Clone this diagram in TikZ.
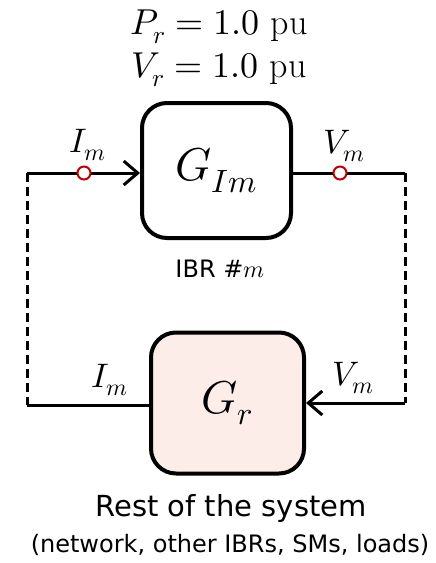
\documentclass[tikz,border=0pt]{standalone}
\usepackage{fontspec}
\usepackage{unicode-math}
\setmathfont{Latin Modern Math}
\setsansfont{DejaVu Sans}
\definecolor{probered}{RGB}{192,0,0}
\definecolor{softpink}{RGB}{252,237,232}
\usetikzlibrary{arrows.meta,positioning}

\begin{document}
\begin{tikzpicture}[x=1pt,y=-1pt,
  block/.style={draw,line width=4pt,rounded corners=25pt,minimum width=149pt,minimum height=135pt,inner sep=0pt},
  wire/.style={line width=3pt},
  dashwire/.style={line width=3pt,dash pattern=on 9pt off 5pt},
  probe/.style={circle,draw=probered,fill=white,line width=2pt,minimum size=13pt,inner sep=0pt},
  tip/.style={-{Straight Barb[length=14pt,width=24pt,line width=3pt]}},
  siglabel/.style={font=\fontsize{34}{40}\selectfont}]
\useasboundingbox (0,0) rectangle (436,563);
% blocks
\node[block] (gim) at (216.5,170.5) {\fontsize{46}{54}\selectfont$G_{Im}$};
\node[block,fill=softpink,minimum width=153pt,minimum height=141pt] (gr) at (227.5,403) {\fontsize{46}{54}\selectfont$G_r$};
% operating point and captions
\node[font=\fontsize{36}{40}\selectfont] (pr) at (219,27) {$P_r = 1.0\ \mathrm{pu}$};
\node[font=\fontsize{36}{40}\selectfont] (vr) at (219,70) {$V_r = 1.0\ \mathrm{pu}$};
\node[font=\sffamily\fontsize{24}{26}\selectfont] (ibr) at (220,269) {IBR \#$m$};
\node[font=\sffamily\fontsize{29}{30}\selectfont] (rest) at (231,508) {Rest of the system};
\node[font=\sffamily\fontsize{24}{24}\selectfont] (rest2) at (230,545) {(network, other IBRs, SMs, loads)};
% corners of the loop
\coordinate (tl) at (27,173);
\coordinate (tr) at (405,173);
\coordinate (bl) at (27,405);
\coordinate (br) at (405,403);
% connectors
\draw[wire,tip] (tl) -- (tl -| gim.west);
\draw[wire] (tr -| gim.east) -- (tr);
\draw[wire] (bl) -- (bl -| gr.west);
\draw[wire,tip] (br) -- (br -| gr.east);
\draw[dashwire] (tl) -- (bl);
\draw[dashwire] (tr) -- (br);
% measurement points
\node[probe] (pim) at (84,173) {};
\node[probe] (pvm) at (340,173) {};
% signal labels
\node[siglabel] (im1) at (88,145) {$I_m$};
\node[siglabel] (vm1) at (344,146) {$V_m$};
\node[siglabel] (im2) at (110,380) {$I_m$};
\node[siglabel] (vm2) at (353,378) {$V_m$};
\end{tikzpicture}
\end{document}
